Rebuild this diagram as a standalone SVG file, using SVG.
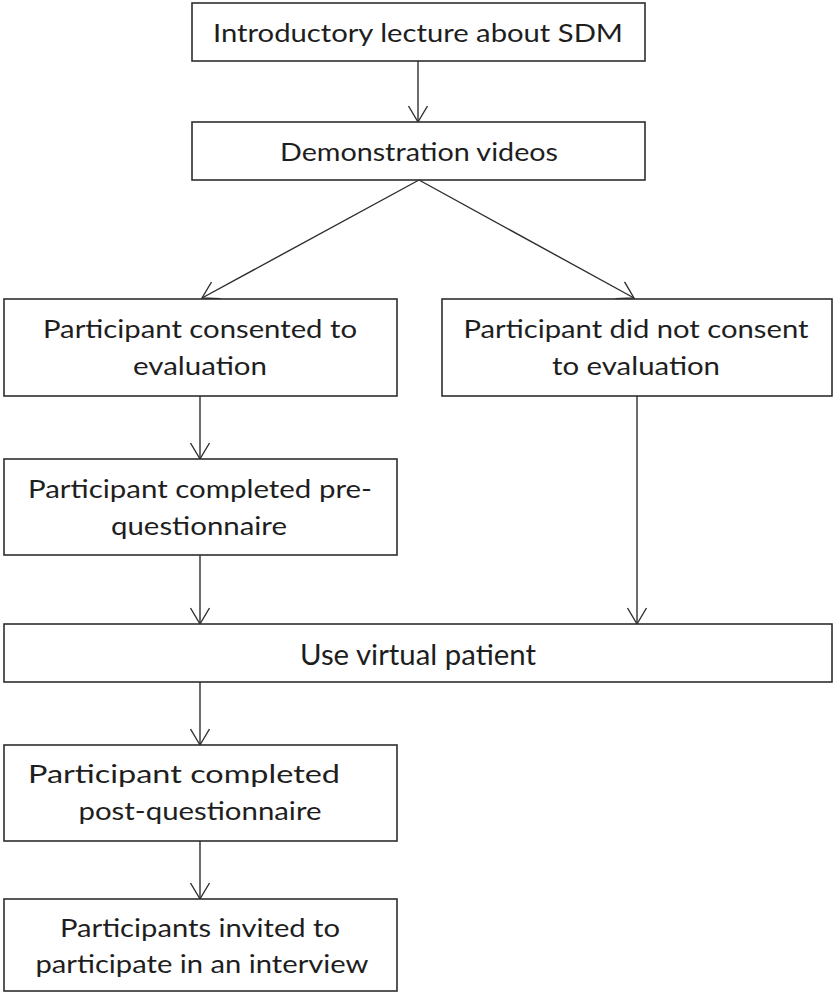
<svg xmlns="http://www.w3.org/2000/svg" width="834" height="995" viewBox="0 0 834 995">
  <style>
    .box { fill: #ffffff; stroke: #2e2e2e; stroke-width: 1.6; }
    .edge { fill: none; stroke: #2e2e2e; stroke-width: 1.4; }
    .lbl { font-family: Lato, "Liberation Sans", sans-serif; font-size: 25px; fill: #1e1e1e; text-anchor: middle; }
    .cond { font-family: Lato, "Liberation Sans", sans-serif; font-size: 29px; fill: #1e1e1e; text-anchor: middle; }
  </style>
  <defs>
    <marker id="vhead" markerUnits="userSpaceOnUse" orient="auto" markerWidth="24" markerHeight="24" viewBox="-18 -12 20 24" refX="0" refY="0">
      <path d="M -16 -9.5 L 0 0 L -16 9.5" fill="none" stroke="#2e2e2e" stroke-width="1.4"/>
    </marker>
  </defs>
  <rect width="834" height="995" fill="#ffffff"/>

  <g id="connectors">
    <line class="edge" x1="418" y1="61" x2="418" y2="122" marker-end="url(#vhead)"/>
    <line class="edge" x1="419" y1="180" x2="202" y2="298" marker-end="url(#vhead)"/>
    <line class="edge" x1="419" y1="180" x2="634" y2="298" marker-end="url(#vhead)"/>
    <line class="edge" x1="200" y1="396" x2="200" y2="459" marker-end="url(#vhead)"/>
    <line class="edge" x1="200" y1="555" x2="200" y2="624" marker-end="url(#vhead)"/>
    <line class="edge" x1="637" y1="396" x2="637" y2="624" marker-end="url(#vhead)"/>
    <line class="edge" x1="200" y1="682" x2="200" y2="745" marker-end="url(#vhead)"/>
    <line class="edge" x1="200" y1="841" x2="200" y2="899" marker-end="url(#vhead)"/>
  </g>

  <g id="lecture">
    <rect class="box" x="192" y="3" width="453" height="58"/>
    <text class="lbl" x="418" y="42" textLength="410" lengthAdjust="spacingAndGlyphs">Introductory lecture about SDM</text>
  </g>

  <g id="videos">
    <rect class="box" x="192" y="122" width="453" height="58"/>
    <text class="lbl" x="419" y="161" textLength="278" lengthAdjust="spacingAndGlyphs">Demonstration videos</text>
  </g>

  <g id="consented">
    <rect class="box" x="4" y="299" width="393" height="97"/>
    <text class="lbl" x="200" y="338" textLength="314" lengthAdjust="spacingAndGlyphs">Participant consented to</text>
    <text class="lbl" x="200" y="375" textLength="134" lengthAdjust="spacingAndGlyphs">evaluation</text>
  </g>

  <g id="not-consented">
    <rect class="box" x="442" y="299" width="390" height="97"/>
    <text class="lbl" x="636" y="338" textLength="345" lengthAdjust="spacingAndGlyphs">Participant did not consent</text>
    <text class="lbl" x="636" y="375" textLength="168" lengthAdjust="spacingAndGlyphs">to evaluation</text>
  </g>

  <g id="pre-questionnaire">
    <rect class="box" x="4" y="459" width="393" height="96"/>
    <text class="lbl" x="200" y="498" textLength="344" lengthAdjust="spacingAndGlyphs">Participant completed pre-</text>
    <text class="lbl" x="199" y="535" textLength="176" lengthAdjust="spacingAndGlyphs">questionnaire</text>
  </g>

  <g id="virtual-patient">
    <rect class="box" x="4" y="624" width="828" height="58"/>
    <text class="cond" x="418" y="665" textLength="236" lengthAdjust="spacingAndGlyphs">Use virtual patient</text>
  </g>

  <g id="post-questionnaire">
    <rect class="box" x="4" y="745" width="393" height="96"/>
    <text class="lbl" x="184" y="783" textLength="312" lengthAdjust="spacingAndGlyphs">Participant completed</text>
    <text class="lbl" x="200" y="820" textLength="243" lengthAdjust="spacingAndGlyphs">post-questionnaire</text>
  </g>

  <g id="interview">
    <rect class="box" x="4" y="899" width="393" height="92"/>
    <text class="lbl" x="200" y="937" textLength="280" lengthAdjust="spacingAndGlyphs">Participants invited to</text>
    <text class="lbl" x="202" y="973" textLength="333" lengthAdjust="spacingAndGlyphs">participate in an interview</text>
  </g>
</svg>
